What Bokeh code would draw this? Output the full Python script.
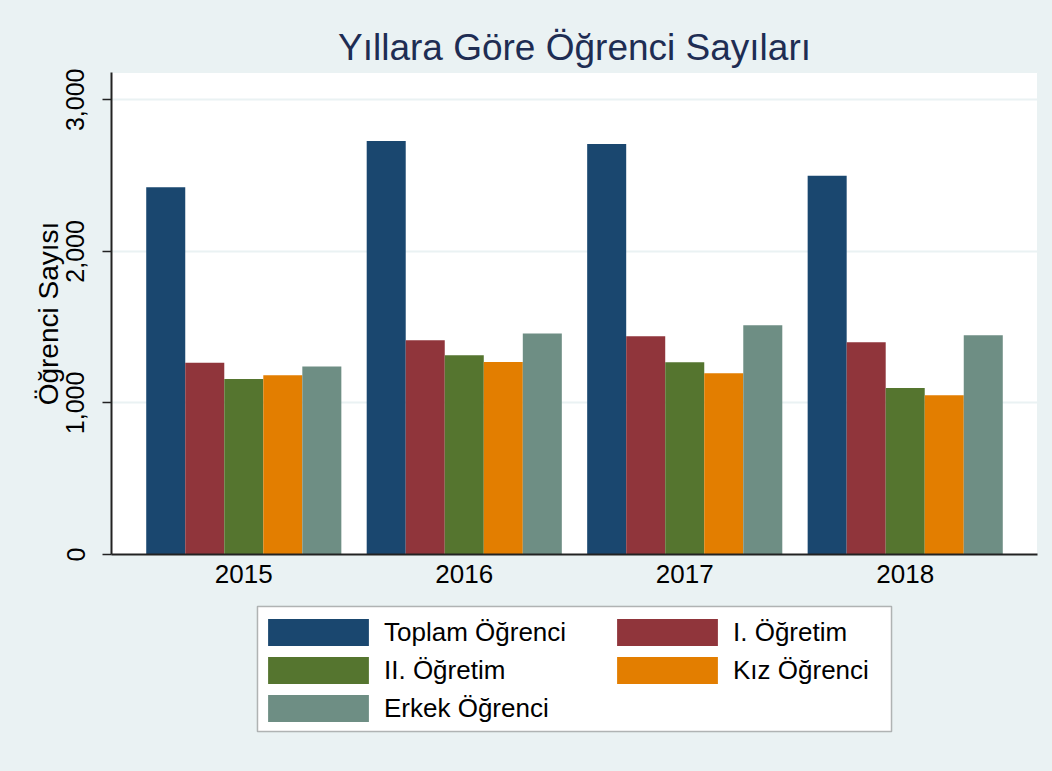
from bokeh.plotting import figure
from bokeh.layouts import column
from bokeh.models import (Range1d, FixedTicker, NumeralTickFormatter, Legend,
                          LegendItem, ColumnDataSource, BoxAnnotation)
from bokeh.embed import file_html
from bokeh.resources import INLINE

# ---- data ----
years = ["2015", "2016", "2017", "2018"]
series_names = ["Toplam Öğrenci", "I. Öğretim", "II. Öğretim", "Kız Öğrenci", "Erkek Öğrenci"]
toplam = [2423, 2728, 2708, 2498]
ogretim_1 = [1265, 1413, 1440, 1400]
ogretim_2 = [1158, 1315, 1268, 1098]
kiz = [1183, 1270, 1196, 1051]
erkek = [1240, 1458, 1512, 1447]
y_ticks = [0, 1000, 2000, 3000]
colors = ["#1a476f", "#90353b", "#55752f", "#e37e00", "#6e8e84"]

values = [toplam, ogretim_1, ogretim_2, kiz, erkek]

FONT = "Liberation Sans"
BG = "#eaf2f3"

fig = figure(width=1052, height=600,
             x_range=Range1d(-0.6, 3.6), y_range=Range1d(0, 3180),
             output_backend="svg", toolbar_location=None,
             min_border_left=111, min_border_right=15,
             min_border_top=72, min_border_bottom=46,
             background_fill_color="white", border_fill_color=BG,
             outline_line_color=BG, styles={"background-color": BG})

bar_w = 0.177
sources = []
for i, (name, vals, col) in enumerate(zip(series_names, values, colors)):
    src = ColumnDataSource(dict(x=[j + (i - 2) * bar_w for j in range(len(years))],
                                top=vals))
    sources.append(src)
    fig.vbar(x="x", top="top", bottom=0, width=bar_w, source=src,
             fill_color=col, line_color=None)

# title
fig.title.text = "Yıllara Göre Öğrenci Sayıları"
fig.title.text_font = FONT
fig.title.text_font_size = "37px"
fig.title.text_font_style = "normal"
fig.title.text_color = "#1e2d53"
fig.title.align = "center"
fig.title.standoff = 10

# x axis
xa = fig.xaxis[0]
xa.ticker = FixedTicker(ticks=list(range(len(years))))
xa.major_label_overrides = {i: y for i, y in enumerate(years)}
xa.major_tick_line_color = None
xa.minor_tick_line_color = None
xa.axis_line_color = "#222222"
xa.axis_line_width = 2
xa.major_label_text_font = FONT
xa.major_label_text_font_size = "26px"
xa.major_label_text_color = "black"
xa.major_label_standoff = 4

# y axis
ya = fig.yaxis[0]
ya.ticker = FixedTicker(ticks=y_ticks)
ya.formatter = NumeralTickFormatter(format="0,0")
ya.minor_tick_line_color = None
ya.major_tick_out = 9
ya.major_tick_in = 0
ya.major_tick_line_color = "#222222"
ya.major_tick_line_width = 1.5
ya.axis_line_color = "#222222"
ya.axis_line_width = 2
ya.major_label_orientation = "vertical"
ya.major_label_text_font = FONT
ya.major_label_text_font_size = "25px"
ya.major_label_text_color = "black"
ya.major_label_standoff = 18
ya.axis_label = "Öğrenci Sayısı"
ya.axis_label_text_font = FONT
ya.axis_label_text_font_size = "28px"
ya.axis_label_text_font_style = "normal"
ya.axis_label_text_color = "black"
ya.axis_label_standoff = 0

fig.xgrid.grid_line_color = None
fig.ygrid.ticker = FixedTicker(ticks=y_ticks)
fig.ygrid.grid_line_color = BG
fig.ygrid.grid_line_width = 2

# ---- legend panel below the chart (frame aligned with the chart's frame) ----
# ranges of this panel are in page pixels so the key box can be placed directly
leg_fig = figure(width=1052, height=171, output_backend="svg", toolbar_location=None,
                 min_border=0, x_axis_type=None, y_axis_type=None,
                 x_range=Range1d(111, 1037), y_range=Range1d(771, 600),
                 background_fill_color=BG, border_fill_color=BG,
                 outline_line_color=None, styles={"background-color": BG})
leg_fig.add_layout(BoxAnnotation(left=257, right=891, top=606, bottom=731,
                                 fill_color="white", fill_alpha=1.0,
                                 line_color="#111111", line_width=1.5))
key_renderers = []
for src, col in zip(sources, colors):
    r = leg_fig.vbar(x="x", top="top", bottom=0, width=bar_w, source=src,
                     fill_color=col, line_color=None, visible=False)
    key_renderers.append(r)

common = dict(label_text_font=FONT, label_text_font_size="26px",
              label_text_color="black", glyph_width=126, glyph_height=34,
              label_height=34, label_standoff=3, padding=0, spacing=4,
              margin=0, orientation="vertical", click_policy="none",
              inactive_fill_alpha=0.0, border_line_color=None,
              background_fill_alpha=0.0)
leg1 = Legend(items=[LegendItem(label=series_names[k], renderers=[key_renderers[k]]) for k in (0, 2, 4)],
              location=(144, 46), **common)
leg2 = Legend(items=[LegendItem(label=series_names[k], renderers=[key_renderers[k]]) for k in (1, 3)],
              location=(493, 84), **common)
leg_fig.add_layout(leg1)
leg_fig.add_layout(leg2)

p = column(fig, leg_fig, spacing=0, styles={"background-color": BG})

open("out.html", "w").write(file_html(p, INLINE))
